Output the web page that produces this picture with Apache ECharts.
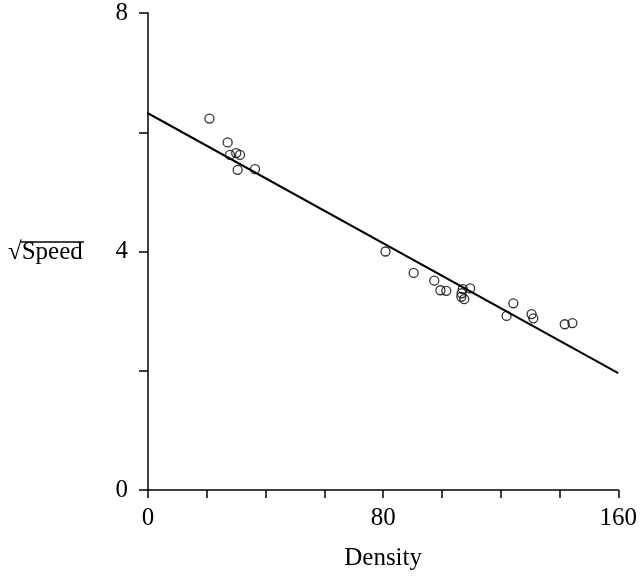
<!DOCTYPE html>
<html>
<head>
<meta charset="utf-8">
<script src="https://cdn.jsdelivr.net/npm/echarts@6/dist/echarts.min.js"></script>
<style>
html,body{margin:0;padding:0;background:#fff;}
#chart{width:640px;height:576px;}
</style>
</head>
<body>
<div id="chart"></div>
<script>
// Data
var density = [20.9, 27.1, 27.9, 30.0, 31.3, 30.5, 36.4, 80.8, 90.4, 97.4, 99.5, 101.5,
               107.1, 106.7, 106.6, 107.6, 109.6, 124.3, 122.0, 130.5, 131.1, 141.8, 144.4];
var sqrtSpeed = [6.23, 5.83, 5.62, 5.65, 5.62, 5.37, 5.38, 4.00, 3.64, 3.51, 3.35, 3.34,
                 3.37, 3.30, 3.24, 3.20, 3.38, 3.13, 2.92, 2.95, 2.88, 2.78, 2.80];
// fitted line end points
var fitX = [-10, 160];
var fitY = [6.59, 1.96];
var xTicks = [0, 80, 160];
var yTicks = [0, 4, 8];

var FONT = "'Liberation Serif', 'DejaVu Serif', serif";
var FS = 25;
var points = density.map(function (d, i) { return [d, sqrtSpeed[i]]; });
var line = fitX.map(function (d, i) { return [d, fitY[i]]; });

var chart = echarts.init(document.getElementById('chart'), null, {renderer: 'canvas'});

// measure text for the radical overline
var ctx = document.createElement('canvas').getContext('2d');
ctx.font = FS + "px " + FONT;
var wRad = ctx.measureText('\u221A').width;
var wSp = ctx.measureText('Speed').width;
var labelLeft = 8;
var labelTop = 240;

chart.setOption({
  animation: false,
  backgroundColor: '#fff',
  grid: {left: 148, right: 20, top: 13, bottom: 84, containLabel: false},
  xAxis: {
    type: 'value', min: 0, max: 160, interval: 20,
    name: 'Density', nameLocation: 'middle', nameGap: 56,
    nameTextStyle: {fontFamily: FONT, fontSize: FS, color: '#000'},
    axisLine: {show: true, lineStyle: {color: '#000', width: 1.5}},
    axisTick: {show: true, length: 8, inside: false, lineStyle: {color: '#000', width: 1.5}},
    axisLabel: {
      fontFamily: FONT, fontSize: FS, color: '#000', margin: 16,
      formatter: function (v) { return xTicks.indexOf(v) >= 0 ? String(v) : ''; }
    },
    splitLine: {show: false}
  },
  yAxis: {
    type: 'value', min: 0, max: 8, interval: 2,
    axisLine: {show: true, lineStyle: {color: '#000', width: 1.5}},
    axisTick: {show: true, length: 9, inside: false, lineStyle: {color: '#000', width: 1.5}},
    axisLabel: {
      fontFamily: FONT, fontSize: FS, color: '#000', margin: 20,
      formatter: function (v) { return yTicks.indexOf(v) >= 0 ? String(v) : ''; }
    },
    splitLine: {show: false}
  },
  graphic: [
    {type: 'text', left: labelLeft, top: labelTop,
     style: {text: '\u221ASpeed', font: FS + "px " + FONT, fill: '#000'}},
    {type: 'line', shape: {x1: labelLeft + wRad - 1, y1: labelTop + 2, x2: labelLeft + wRad + wSp + 1, y2: labelTop + 2},
     style: {stroke: '#000', lineWidth: 1.3}}
  ],
  series: [
    {
      type: 'line', data: line, clip: false, symbol: 'none',
      lineStyle: {color: '#000', width: 2}, silent: true
    },
    {
      type: 'scatter', data: points, symbol: 'circle', symbolSize: 9,
      itemStyle: {color: 'rgba(255,255,255,0)', borderColor: '#000', borderWidth: 1.3}
    }
  ]
});
</script>
</body>
</html>
